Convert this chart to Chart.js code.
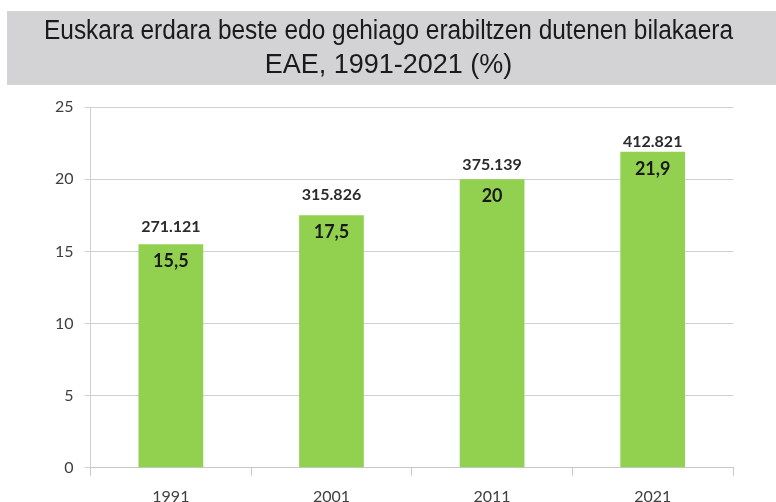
<!DOCTYPE html>
<html>
<head>
<meta charset="utf-8">
<script src="https://cdn.jsdelivr.net/npm/chart.js@4"></script>
<style>
  html, body { margin: 0; padding: 0; background: #ffffff; overflow: hidden; }
  #wrap { width: 776px; height: 502px; position: relative; }
</style>
</head>
<body>
<div id="wrap"><canvas id="c" width="776" height="502"></canvas></div>
<script>
const categories = ["1991", "2001", "2011", "2021"];
const percentValues = [15.5, 17.5, 20, 21.9];
const percentLabels = ["15,5", "17,5", "20", "21,9"];
const peopleLabels = ["271.121", "315.826", "375.139", "412.821"];
const yTicks = [0, 5, 10, 15, 20, 25];
const titleLines = ["Euskara erdara beste edo gehiago erabiltzen dutenen bilakaera", "EAE, 1991-2021 (%)"];

const titleBg = {
  id: 'titleBg',
  beforeDraw(chart) {
    const tb = chart.titleBlock;
    const ctx = chart.ctx;
    ctx.save();
    ctx.fillStyle = '#d3d2d4';
    ctx.fillRect(7, tb.top, chart.width - 7, 74);
    ctx.restore();
  }
};

const barLabels = {
  id: 'barLabels',
  afterDatasetsDraw(chart, args, opts) {
    const ctx = chart.ctx;
    const meta = chart.getDatasetMeta(0);
    ctx.save();
    ctx.textAlign = 'center';
    ctx.textBaseline = 'middle';
    meta.data.forEach((bar, i) => {
      ctx.fillStyle = '#1a1a1a';
      ctx.font = 'bold 18px Lato';
      ctx.fillText(percentLabels[i], bar.x, bar.y + opts.insideGap);
      ctx.fillStyle = '#2b2b2b';
      ctx.font = 'bold 16px Lato';
      ctx.fillText(peopleLabels[i], bar.x, bar.y - opts.aboveGaps[i]);
    });
    ctx.restore();
  }
};

new Chart(document.getElementById('c'), {
  type: 'bar',
  data: {
    labels: categories,
    datasets: [{
      data: percentValues,
      backgroundColor: '#92d050',
      borderWidth: 0,
      categoryPercentage: 1.0,
      barPercentage: 0.403
    }]
  },
  options: {
    responsive: false,
    animation: false,
    layout: { padding: { top: 11, left: 44, right: 43, bottom: -15 } },
    plugins: {
      legend: { display: false },
      tooltip: { enabled: false },
      barLabels: { insideGap: 17, aboveGaps: [17.5, 20, 14, 10] },
      title: {
        display: true,
        text: titleLines,
        color: '#1a1a1a',
        font: { family: '"Liberation Sans", Arial, sans-serif', size: 27, weight: 'normal', lineHeight: 1.26 },
        padding: { top: 4, bottom: 24 }
      }
    },
    scales: {
      x: {
        offset: true,
        grid: { offset: true, drawOnChartArea: false, drawTicks: true, tickLength: 8, color: '#c8c8c8' },
        border: { color: '#c8c8c8' },
        ticks: { color: '#404040', font: { family: 'Lato', size: 16 }, padding: 11 }
      },
      y: {
        min: 0,
        max: 25,
        afterBuildTicks(axis) { axis.ticks = yTicks.map(v => ({ value: v })); },
        grid: { color: '#d0d0d0', tickLength: 6 },
        border: { color: '#d0d0d0' },
        ticks: { color: '#404040', font: { family: 'Lato', size: 16 }, padding: 11 }
      }
    }
  },
  plugins: [titleBg, barLabels]
});
</script>
</body>
</html>
